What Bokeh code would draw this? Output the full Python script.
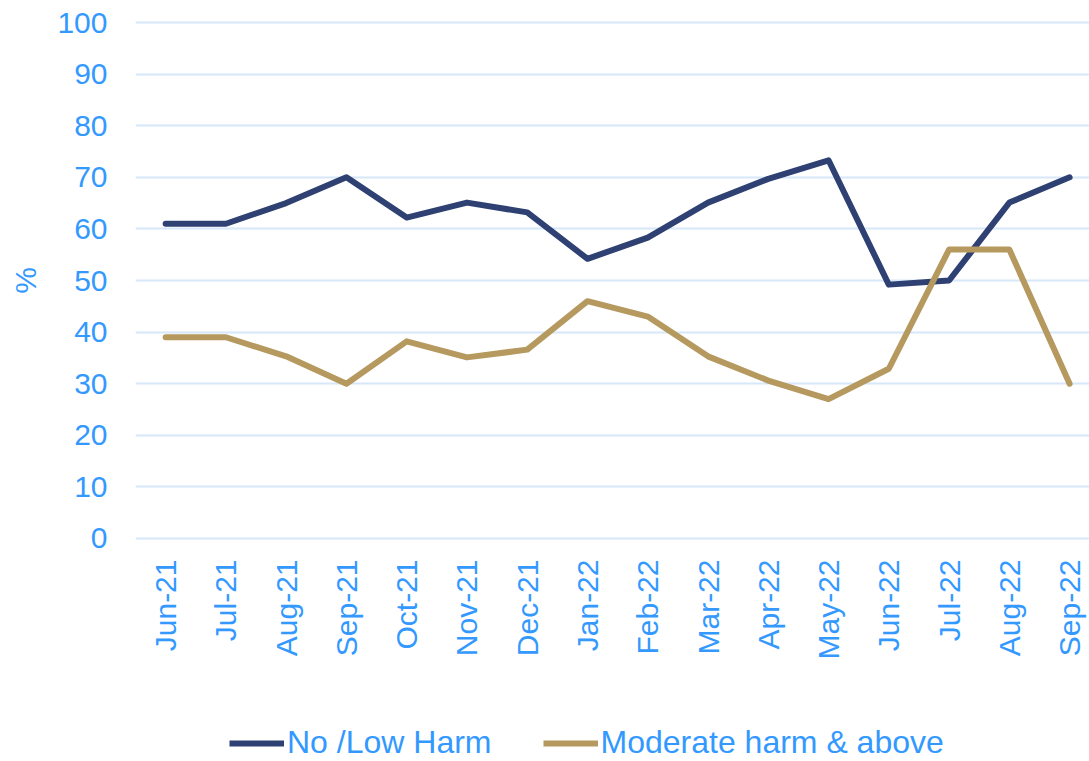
import math
from bokeh.plotting import figure
from bokeh.layouts import column
from bokeh.models import FixedTicker, Range1d, Legend, LegendItem
from bokeh.embed import file_html
from bokeh.resources import INLINE

months = ["Jun-21", "Jul-21", "Aug-21", "Sep-21", "Oct-21", "Nov-21", "Dec-21", "Jan-22",
          "Feb-22", "Mar-22", "Apr-22", "May-22", "Jun-22", "Jul-22", "Aug-22", "Sep-22"]
no_low_harm = [61, 61, 65, 70, 62.2, 65.1, 63.2, 54.2, 58.3, 65.1, 69.7, 73.3, 49.2, 50, 65.1, 70]
moderate_harm = [39, 39, 35.3, 30, 38.2, 35.1, 36.6, 46.0, 43.0, 35.3, 30.6, 27.0, 32.9, 56, 56, 30]
y_ticks = [0, 10, 20, 30, 40, 50, 60, 70, 80, 90, 100]
series_names = ["No /Low Harm", "Moderate harm & above"]

FONT = "Liberation Sans"
TXT = "#3399FF"
NAVY = "#2E4172"
GOLD = "#B5995E"

xs = list(range(len(months)))

# ---------------- main chart ----------------
p = figure(width=1089, height=678, output_backend="svg", toolbar_location=None,
           x_range=Range1d(-0.5, 15.33), y_range=Range1d(-0.39, 100.39))
p.min_border_left = 135
p.min_border_right = 0
p.min_border_top = 20
p.min_border_bottom = 138
p.outline_line_color = None
p.background_fill_color = "white"
p.border_fill_color = "white"

p.line(xs, no_low_harm, line_color=NAVY, line_width=6, line_join="round", line_cap="round")
p.line(xs, moderate_harm, line_color=GOLD, line_width=6, line_join="round", line_cap="round")

p.xaxis.ticker = FixedTicker(ticks=xs)
p.xaxis.major_label_overrides = {i: m for i, m in enumerate(months)}
p.xaxis.major_label_orientation = math.pi / 2
p.xaxis.major_label_standoff = 19
p.yaxis.ticker = FixedTicker(ticks=y_ticks)
p.yaxis.major_label_standoff = 28
p.yaxis.axis_label = "%"
p.yaxis.axis_label_standoff = 12
for ax in (p.xaxis, p.yaxis):
    ax.axis_line_color = None
    ax.major_tick_line_color = None
    ax.minor_tick_line_color = None
    ax.major_tick_out = 0
    ax.major_tick_in = 0
    ax.major_label_text_font = FONT
    ax.major_label_text_font_size = "30px"
    ax.major_label_text_color = TXT
    ax.axis_label_text_font = FONT
    ax.axis_label_text_font_size = "30px"
    ax.axis_label_text_font_style = "normal"
    ax.axis_label_text_color = TXT

p.xgrid.grid_line_color = None
p.ygrid.grid_line_color = "#D6E8FA"
p.ygrid.grid_line_width = 2

# ---------------- legend strip ----------------
q = figure(width=1089, height=83, output_backend="svg", toolbar_location=None,
           x_range=Range1d(0, 1), y_range=Range1d(0, 1),
           x_axis_location=None, y_axis_location=None)
q.min_border_left = 0
q.min_border_right = 0
q.min_border_top = 0
q.min_border_bottom = 0
q.outline_line_color = None
q.xgrid.grid_line_color = None
q.ygrid.grid_line_color = None
# same series (outside this strip's visible range) to feed the legend
l1 = q.line(xs, no_low_harm, line_color=NAVY, line_width=6)
l2 = q.line(xs, moderate_harm, line_color=GOLD, line_width=6)

legend = Legend(items=[LegendItem(label=series_names[0], renderers=[l1]),
                       LegendItem(label=series_names[1], renderers=[l2])],
                orientation="horizontal", location=(94, 0))
legend.border_line_color = None
legend.background_fill_alpha = 0
legend.padding = 0
legend.margin = 0
legend.spacing = 51
legend.glyph_width = 55
legend.label_standoff = 3
legend.label_text_font = FONT
legend.label_text_font_size = "32px"
legend.label_text_color = TXT
q.add_layout(legend, "center")

layout = column(p, q, spacing=0)
open("out.html", "w").write(file_html(layout, INLINE))
